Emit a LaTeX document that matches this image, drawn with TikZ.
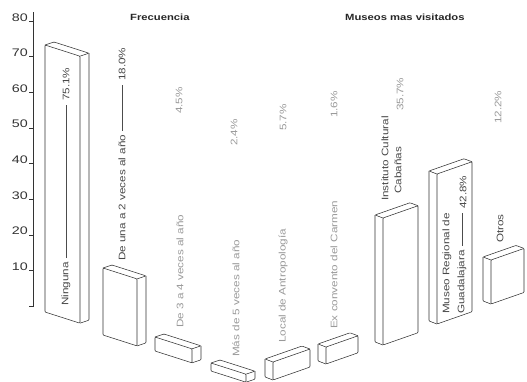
\documentclass[tikz,border=0pt]{standalone}
\usepackage{fontspec}
\setmainfont{Liberation Sans}
\newcommand\wlab[1]{\scalebox{1.23}[1]{#1}}
\newcommand\wtit[1]{\scalebox{1.25}[1]{#1}}
\newcommand\wax[1]{\scalebox{1.3}[1]{#1}}
\tikzset{
  barline/.style={draw=black!80, line width=0.55pt, line join=round, rounded corners=0.8pt},
  vlab/.style={rotate=90, anchor=west, inner sep=0pt, text=black!72, font=\fontsize{9.5}{11}\selectfont},
  flab/.style={vlab, text=black!40},
  lead/.style={draw=black!70, line width=0.4pt, shorten >=4pt, shorten <=4pt},
  ttl/.style={anchor=base west, inner sep=0pt, text=black!85, font=\fontsize{9}{10}\selectfont\bfseries},
  axlab/.style={anchor=base east, inner sep=0pt, text=black!80, font=\fontsize{11}{12}\selectfont},
  pics/fbar/.style 2 args={code={
    \draw[barline] (0,0) -- ({#1},{0.32*#1}) -- ({#1},{0.32*#1+#2}) -- (0,{#2}) -- cycle;
    \draw[barline] (0,0) -- (9,-3) -- ({#1+9},{0.32*#1-3}) -- ({#1},{0.32*#1});
    \draw[barline] ({#1+9},{0.32*#1-3}) -- ({#1+9},{0.32*#1-3+#2}) -- ({#1},{0.32*#1+#2});
  }},
  pics/mbar/.style 2 args={code={
    \draw[barline] (0,0) -- ({#1},{-0.35*#1}) -- ({#1},{-0.35*#1+#2}) -- (0,{#2}) -- cycle;
    \draw[barline] (0,0) -- (-8,-3) -- ({#1-8},{-0.35*#1-3}) -- ({#1},{-0.35*#1});
    \draw[barline] (-8,-3) -- (-8,{#2-3}) -- (0,{#2});
  }}
}
\begin{document}
\begin{tikzpicture}[x=1pt,y=-1pt]
\useasboundingbox (0,0) rectangle (527,382);

% axis
\coordinate (axbot) at (33,307);
\coordinate (axtop) at (33,12);
\draw[black!80, line width=0.6pt] (axbot) -- (axtop);
\foreach \v in {0,...,8}{
  \draw[black!80, line width=0.6pt] (29,{306-35.6*\v}) -- (33,{306-35.6*\v});
}
\foreach \v in {1,...,8}{
  \node[axlab] (ax\v) at (28,{306-35.6*\v}) {\wax{\v0}};
}

% titles
\node[ttl] (tfreq) at (130,21) {\wtit{Frecuencia}};
\node[ttl] (tmus) at (345,21) {\wtit{Museos mas visitados}};

% frequency bars
\pic at (45,45) {fbar={35}{267}};
\pic at (103,268) {fbar={34}{67}};
\pic at (155,337) {fbar={37}{14}};
\pic at (211,363) {fbar={35}{8}};

% museum bars
\pic at (273,362) {mbar={37}{18}};
\pic at (326,347) {mbar={32}{17}};
\pic at (383,218) {mbar={35}{127}};
\pic at (437,174) {mbar={35}{150}};
\pic at (491,260) {mbar={33}{44}};

% frequency labels
\node[vlab] (ning) at (66,306) {\wlab{Ninguna}};
\node[vlab] (p751) at (66,101) {\wlab{75.1\%}};
\draw[lead] (ning) -- (p751);

\node[vlab] (deuna) at (122,261) {\wlab{De una a 2 veces al año}};
\node[vlab] (p180) at (122,81) {\wlab{18.0\%}};
\draw[lead] (deuna) -- (p180);

\node[flab] (de34) at (180,328) {\wlab{De 3 a 4 veces al año}};
\node[flab] (p45) at (179,114) {\wlab{4.5\%}};

\node[flab] (mas5) at (236,357) {\wlab{Más de 5 veces al año}};
\node[flab] (p24) at (234,146) {\wlab{2.4\%}};

% museum labels
\node[flab] (local) at (283,343) {\wlab{Local de Antropología}};
\node[flab] (p57) at (283,131) {\wlab{5.7\%}};

\node[flab] (exconv) at (334,329) {\wlab{Ex convento del Carmen}};
\node[flab] (p16) at (334,118) {\wlab{1.6\%}};

\node[vlab] (inst) at (385,201) {\wlab{Instituto Cultural}};
\node[vlab] (caba) at (398,194) {\wlab{Cabañas}};
\node[flab] (p357) at (400,111) {\wlab{35.7\%}};

\node[vlab] (museo) at (447,314) {\wlab{Museo Regional de}};
\node[vlab] (guad) at (462,314) {\wlab{Guadalajara}};
\node[vlab] (p428) at (463,209) {\wlab{42.8\%}};
\draw[lead] (guad.east) -- (guad.east |- p428.west);

\node[vlab] (otros) at (500,243) {\wlab{Otros}};
\node[flab] (p122) at (498,124) {\wlab{12.2\%}};
\end{tikzpicture}
\end{document}
